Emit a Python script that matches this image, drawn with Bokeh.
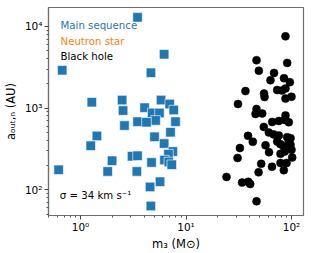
from bokeh.plotting import figure
from bokeh.models import FixedTicker, Label
from bokeh.embed import file_html
from bokeh.resources import INLINE

# Main-sequence tertiaries: mass (Msun), outer semi-major axis (AU)
ms_mass = [3.47, 0.67, 6.2, 4.65, 1.28, 2.48, 5.8, 7.0, 4.05, 7.65, 2.53, 4.78, 5.6,
           5.15, 3.47, 4.22, 7.95, 2.61, 1.43, 7.13, 5.03, 1.25, 6.2, 1.99, 3.08, 3.47,
           7.5, 6.82, 6.25, 6.87, 7.33, 4.71, 0.62, 1.81, 3.42, 5.67, 4.56, 4.64]
ms_aout = [12900, 2900, 4550, 2700, 1180, 1250, 1250, 1120, 1010, 945, 930, 870, 870,
           705, 680, 670, 680, 610, 455, 505, 443, 345, 367, 226, 256, 260,
           293, 272, 230, 218, 202, 215, 175, 167, 167, 125, 108, 63]

# Black-hole tertiaries
bh_mass = [87.7, 46.6, 91.0, 49.0, 68.3, 63.2, 84.9, 96.4, 36.6, 54.9, 55.5, 73.1, 81.2,
           87.7, 87.7, 100, 31.1, 46.6, 45.6, 52.7, 87.7, 65.6, 75.8, 86.3, 94.2, 54.6,
           60.9, 67.9, 75.8, 91.0, 97.9, 38.7, 43.0, 73.1, 78.6, 94.2, 97.9, 56.7, 32.4,
           84.5, 61.2, 86.3, 100, 78.6, 30.8, 101.5, 51.6, 78.6, 89.7, 65.3, 48.7, 84.5,
           24.2, 34.0, 38.9, 40.6, 46.6]
bh_aout = [7550, 3850, 3570, 2865, 2690, 2193, 2321, 2074, 1611, 1502, 1361, 1660, 1635,
           1738, 1306, 1374, 1119, 973, 845, 857, 811, 675, 694, 714, 669, 586,
           502, 475, 459, 439, 427, 456, 385, 388, 361, 388, 354, 349, 323,
           338, 287, 293, 307, 275, 244, 248, 207, 212, 212, 191, 163, 173,
           143, 122, 125, 117, 72]

x_ticks = [1, 10, 100]
x_tick_labels = ["10\u2070", "10\u00b9", "10\u00b2"]
y_ticks = [100, 1000, 10000]
y_tick_labels = ["10\u00b2", "10\u00b3", "10\u2074"]

legend_names = ["Main sequence", "Neutron star", "Black hole"]
legend_colors = ["#1f77b4", "#ff7f0e", "#000000"]
legend_y = [10280, 6560, 4300]

FONT = "DejaVu Sans"
X_LO, X_HI = 0.497, 129.9
Y_LO, Y_HI = 48.2, 17040
SPINE = "#6e6e6e"

p = figure(width=311, height=253, x_axis_type="log", y_axis_type="log",
           x_range=(X_LO, X_HI), y_range=(Y_LO, Y_HI),
           output_backend="svg", toolbar_location=None,
           min_border_left=48, min_border_right=8, min_border_top=7, min_border_bottom=37)

p.scatter(ms_mass, ms_aout, marker="square", size=9.5, fill_color="#1f77b4",
          line_color="white", line_width=0.6)
p.scatter(bh_mass, bh_aout, marker="circle", size=8, fill_color="black", line_color="black",
          line_width=0.5)

x_minor = [m * 10.0 ** e for e in range(-1, 3) for m in range(2, 10) if X_LO <= m * 10.0 ** e <= X_HI]
y_minor = [m * 10.0 ** e for e in range(1, 5) for m in range(2, 10) if Y_LO <= m * 10.0 ** e <= Y_HI]
p.xaxis.ticker = FixedTicker(ticks=x_ticks, minor_ticks=x_minor)
p.yaxis.ticker = FixedTicker(ticks=y_ticks, minor_ticks=y_minor)
p.xaxis.major_label_overrides = dict(zip(x_ticks, x_tick_labels))
p.yaxis.major_label_overrides = dict(zip(y_ticks, y_tick_labels))

p.xgrid.visible = False
p.ygrid.visible = False
p.outline_line_color = SPINE
p.outline_line_width = 1.2

for ax in (p.xaxis, p.yaxis):
    ax.axis_line_color = SPINE
    ax.axis_line_width = 1.2
    ax.major_tick_line_color = "#444444"
    ax.minor_tick_line_color = "#555555"
    ax.major_tick_out = 4
    ax.major_tick_in = 0
    ax.minor_tick_out = 2
    ax.minor_tick_in = 0
    ax.major_label_text_font = FONT
    ax.major_label_text_font_size = "10.5px"
    ax.major_label_text_color = "black"
    ax.major_label_standoff = 1
    ax.axis_label_text_font = FONT
    ax.axis_label_text_font_size = "11.5px"
    ax.axis_label_text_font_style = "normal"
    ax.axis_label_text_color = "black"
p.yaxis.major_label_standoff = 2
p.xaxis.axis_label_standoff = 1
p.yaxis.axis_label_standoff = 4
p.yaxis.major_label_orientation = "horizontal"

p.xaxis.axis_label = "m\u2083 (M\u2299)"
p.yaxis.axis_label = "a\u2092\u1d64\u209c,\u2099 (AU)"

for name, col, yy in zip(legend_names, legend_colors, legend_y):
    p.add_layout(Label(x=0.646, y=yy, text=name, text_color=col, text_font=FONT,
                       text_font_size="10.2px", text_baseline="middle", text_align="left"))

p.add_layout(Label(x=0.636, y=84.5, text="\u03c3 = 34 km s\u207b\u00b9", text_color="black",
                   text_font=FONT, text_font_size="10.2px", text_baseline="middle",
                   text_align="left"))

open("out.html", "w").write(file_html(p, INLINE))
